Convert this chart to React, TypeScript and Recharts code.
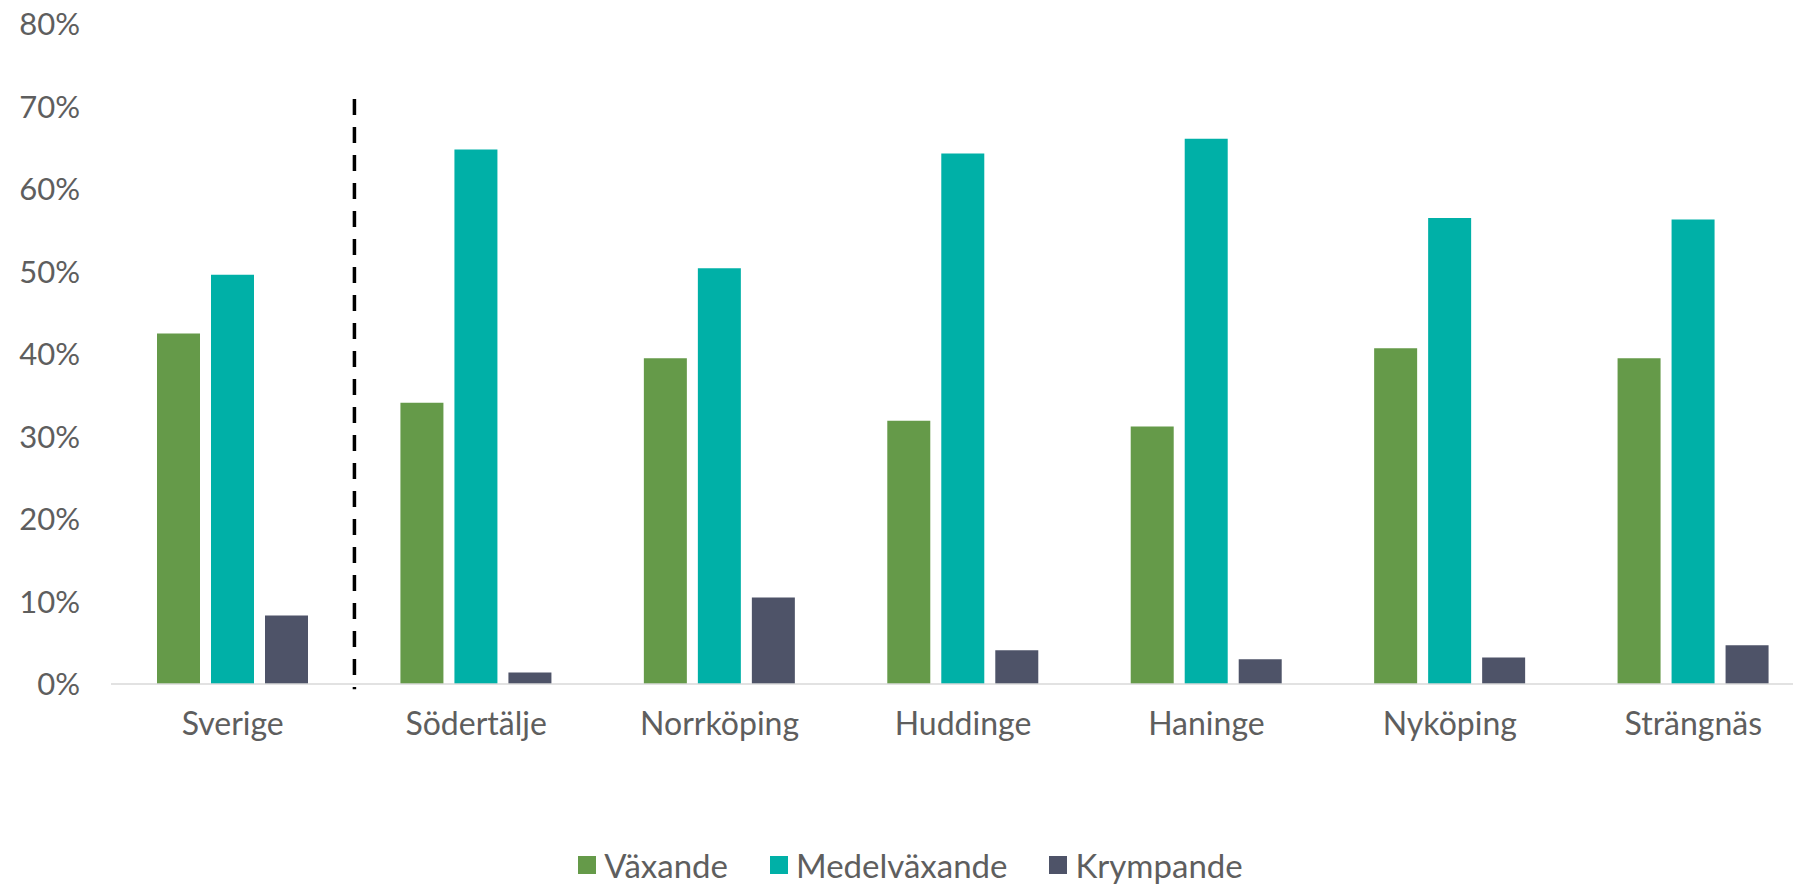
import { BarChart, Bar, XAxis, YAxis, Legend, ReferenceLine } from "recharts";

const categories = ["Sverige", "Södertälje", "Norrköping", "Huddinge", "Haninge", "Nyköping", "Strängnäs"];
const vaxande = [42.5, 34.1, 39.5, 31.9, 31.2, 40.7, 39.5];
const medelvaxande = [49.6, 64.8, 50.4, 64.3, 66.1, 56.5, 56.3];
const krympande = [8.3, 1.4, 10.5, 4.1, 3.0, 3.2, 4.7];
const yTicks = [0, 10, 20, 30, 40, 50, 60, 70, 80];

// dashed divider after "Sverige", from just below 0% up to about 71%
const dividerTop = 70.9;
const dividerBottom = -0.65;

const TEXT = "#5e5e5e";

const SERIES = [
  { key: "vaxande", name: "Växande", color: "#659A49" },
  { key: "medelvaxande", name: "Medelväxande", color: "#00B0A7" },
  { key: "krympande", name: "Krympande", color: "#4E5368" },
];

const data = categories.map((name, i) => ({
  name,
  vaxande: vaxande[i],
  medelvaxande: medelvaxande[i],
  krympande: krympande[i],
}));

function ChartLegend() {
  return (
    <div
      style={{
        display: "flex",
        justifyContent: "center",
        alignItems: "center",
        height: 40,
        gap: 42,
        paddingLeft: 6,
      }}
    >
      {SERIES.map((s) => (
        <span key={s.key} style={{ display: "flex", alignItems: "center", gap: 8 }}>
          <span style={{ display: "inline-block", width: 18, height: 18, background: s.color }} />
          <span style={{ fontSize: 33, lineHeight: "normal", color: TEXT }}>{s.name}</span>
        </span>
      ))}
    </div>
  );
}

export default function App() {
  return (
    <div
      style={{
        position: "fixed",
        top: 0,
        left: 0,
        width: 1793,
        height: 885,
        overflow: "hidden",
        background: "#fff",
        fontFamily: "Lato, sans-serif",
      }}
    >
      <BarChart
        width={1815}
        height={885}
        data={data}
        margin={{ top: 24, right: 0, left: 0, bottom: 0 }}
        barSize={43}
        barGap={11}
      >
        <XAxis
          dataKey="name"
          interval={0}
          tickLine={false}
          tickSize={0}
          tickMargin={28}
          height={161}
          axisLine={{ stroke: "#D9D9D9", strokeWidth: 1.5 }}
          tick={{ fill: TEXT, fontSize: 32 }}
        />
        <YAxis
          domain={[0, 80]}
          ticks={yTicks}
          width={111}
          axisLine={false}
          tickLine={false}
          tickSize={0}
          tickMargin={31}
          tickFormatter={(v) => `${v}%`}
          tick={{ fill: TEXT, fontSize: 31 }}
        />
        <Legend verticalAlign="bottom" content={<ChartLegend />} />
        {SERIES.map((s) => (
          <Bar key={s.key} dataKey={s.key} name={s.name} fill={s.color} isAnimationActive={false} />
        ))}
        <ReferenceLine
          segment={[
            { x: "Sverige", y: dividerTop },
            { x: "Sverige", y: dividerBottom },
          ]}
          position="end"
          ifOverflow="visible"
          stroke="#000"
          strokeWidth={3.5}
          strokeDasharray="16 12"
        />
      </BarChart>
    </div>
  );
}
